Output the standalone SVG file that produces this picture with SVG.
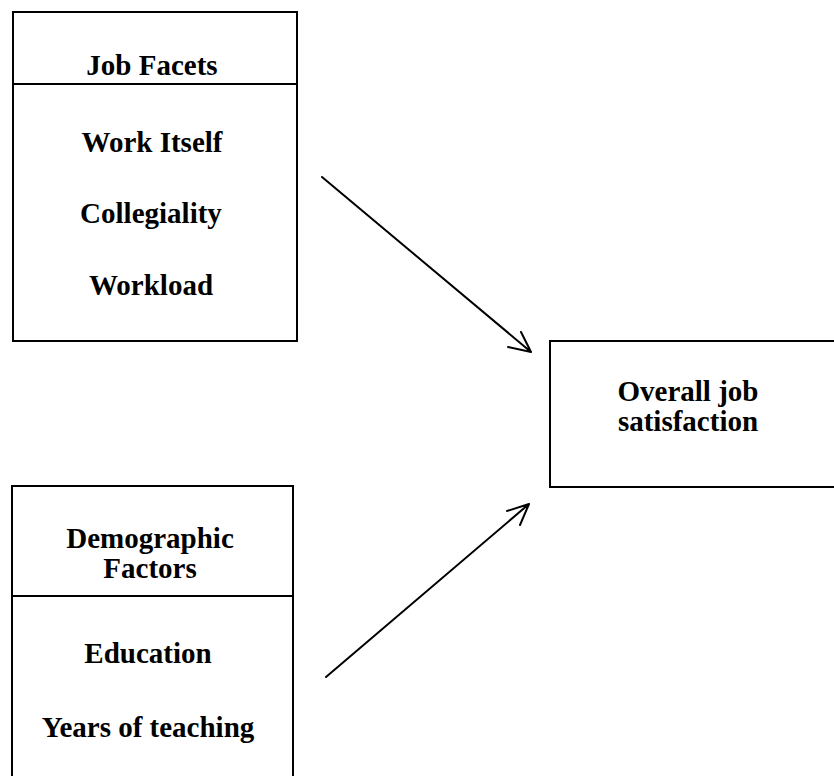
<svg xmlns="http://www.w3.org/2000/svg" width="834" height="776" viewBox="0 0 834 776">
<style>
.box{fill:#fff;stroke:#000;stroke-width:2}
.div{stroke:#000;stroke-width:2}
.t{font-family:"Liberation Serif","Times New Roman",serif;font-weight:bold;font-size:29px;fill:#000;text-anchor:middle}
.conn{stroke:#000;stroke-width:2;fill:none;stroke-linecap:round;stroke-linejoin:round}
</style>
<rect width="834" height="776" fill="#fff"/>
<g id="job-facets">
<rect class="box" x="13" y="12" width="284" height="329"/>
<line class="div" x1="13" y1="84" x2="297" y2="84"/>
<text class="t" x="152" y="75">Job Facets</text>
<text class="t" x="152" y="152">Work Itself</text>
<text class="t" x="151" y="223">Collegiality</text>
<text class="t" x="151" y="295">Workload</text>
</g>
<g id="demographic-factors">
<rect class="box" x="12" y="486" width="281" height="300"/>
<line class="div" x1="12" y1="596" x2="293" y2="596"/>
<text class="t" x="150" y="548">Demographic</text>
<text class="t" x="150" y="578">Factors</text>
<text class="t" x="148" y="663">Education</text>
<text class="t" x="148" y="737">Years of teaching</text>
</g>
<g id="overall-job-satisfaction">
<rect class="box" x="550" y="341" width="300" height="146"/>
<text class="t" x="688" y="401">Overall job</text>
<text class="t" x="688" y="431">satisfaction</text>
</g>
<g id="connectors">
<path class="conn" d="M322,177 L531,352 M521,332 L531,352 L508,347"/>
<path class="conn" d="M326,677 L529,504 M507,511 L529,504 L520,525"/>
</g>
</svg>
